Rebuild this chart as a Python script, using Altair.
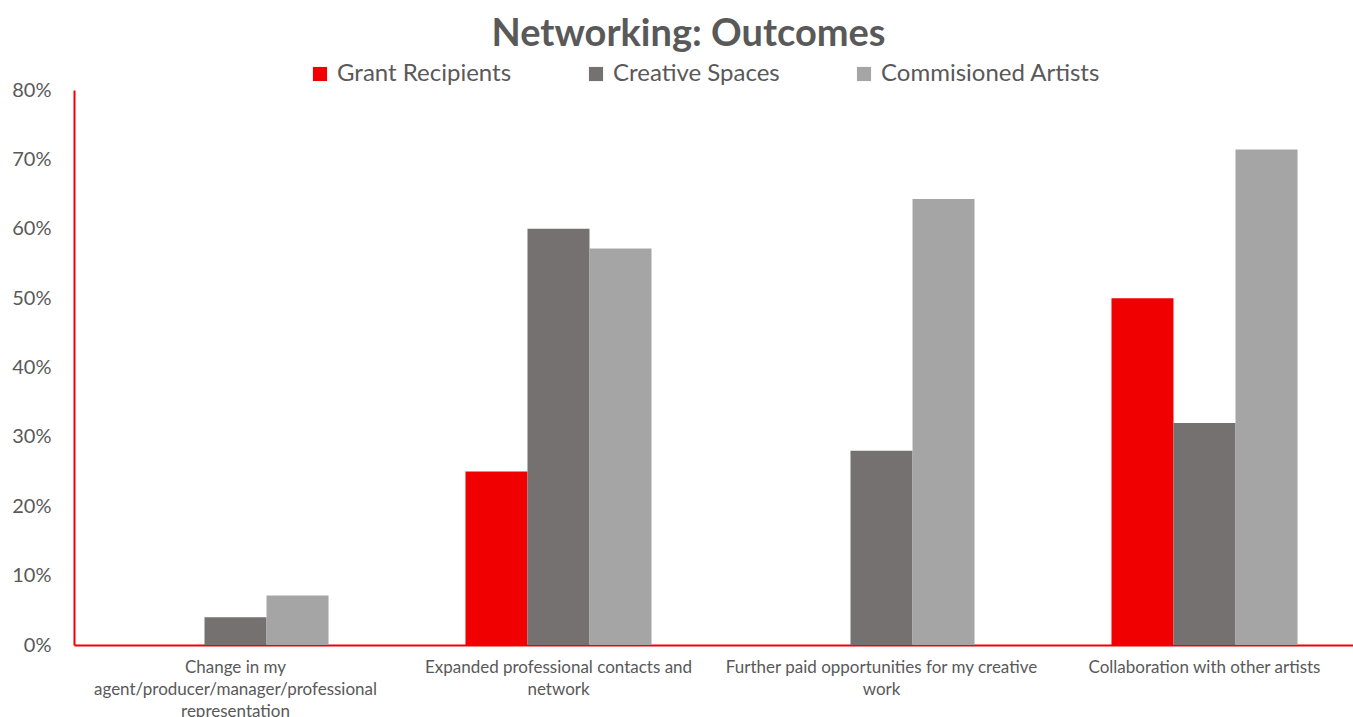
import altair as alt
import pandas as pd

categories = [
    "Change in my agent/producer/manager/professional representation",
    "Expanded professional contacts and network",
    "Further paid opportunities for my creative work",
    "Collaboration with other artists",
]
category_lines = [
    ["Change in my", "agent/producer/manager/professional", "representation"],
    ["Expanded professional contacts and", "network"],
    ["Further paid opportunities for my creative", "work"],
    ["Collaboration with other artists"],
]
series = ["Grant Recipients", "Creative Spaces", "Commisioned Artists"]
grant_recipients = [0.0, 0.25, 0.0, 0.50]
creative_spaces = [0.04, 0.60, 0.28, 0.32]
commissioned_artists = [0.0714, 0.5714, 0.6429, 0.7143]
colors = ["#F00000", "#767171", "#A5A5A5"]

rows = []
for name, vals in zip(series, [grant_recipients, creative_spaces, commissioned_artists]):
    for cat, v in zip(categories, vals):
        rows.append({"category": cat, "series": name, "value": v})
df = pd.DataFrame(rows)

# multi-line axis labels
label_expr = ""
for cat, lines in zip(categories, category_lines):
    arr = "[" + ",".join("'" + l + "'" for l in lines) + "]"
    label_expr += f"datum.value == '{cat}' ? {arr} : "
label_expr += "datum.label"

FONT = "Lato"
TEXT = "#595959"

chart = (
    alt.Chart(df)
    .mark_bar()
    .encode(
        x=alt.X(
            "category:N",
            sort=categories,
            scale=alt.Scale(range=[0, 1292], paddingInner=0.424, paddingOuter=0.212),
            axis=alt.Axis(
                title=None,
                labelAngle=0,
                labelExpr=label_expr,
                labelFont=FONT,
                labelFontSize=17,
                labelColor=TEXT,
                labelPadding=14,
                labelLineHeight=22,
                labelLimit=400,
                ticks=False,
                domainColor="#F00000",
                domainWidth=2,
            ),
        ),
        xOffset=alt.XOffset("series:N", sort=series),
        y=alt.Y(
            "value:Q",
            scale=alt.Scale(domain=[0, 0.8]),
            axis=alt.Axis(
                title=None,
                format=".0%",
                values=[0, 0.1, 0.2, 0.3, 0.4, 0.5, 0.6, 0.7, 0.8],
                grid=False,
                ticks=False,
                labelFont=FONT,
                labelFontSize=20,
                labelColor=TEXT,
                labelPadding=23,
                domainColor="#F00000",
                domainWidth=2,
            ),
        ),
        color=alt.Color(
            "series:N",
            sort=series,
            scale=alt.Scale(domain=series, range=colors),
            legend=alt.Legend(
                title=None,
                orient="none",
                direction="horizontal",
                legendX=234,
                legendY=-28,
                symbolType="square",
                symbolSize=200,
                symbolStrokeWidth=0,
                labelOffset=5,
                labelFont=FONT,
                labelFontSize=24,
                labelColor=TEXT,
                labelLimit=400,
                columnPadding=72,
            ),
        ),
    )
    .properties(
        width=1279,
        height=555,
        autosize="none",
        padding={"left": 74, "top": 90, "right": 0, "bottom": 72},
        title=alt.TitleParams(
            "Networking: Outcomes",
            font=FONT,
            fontSize=38,
            fontWeight="bold",
            color=TEXT,
            anchor="middle",
            frame="group",
            dx=-25,
            offset=8,
        ),
    )
    .configure_view(stroke=None)
)

chart.save("out.html", embed_options={"renderer": "svg", "actions": False})
